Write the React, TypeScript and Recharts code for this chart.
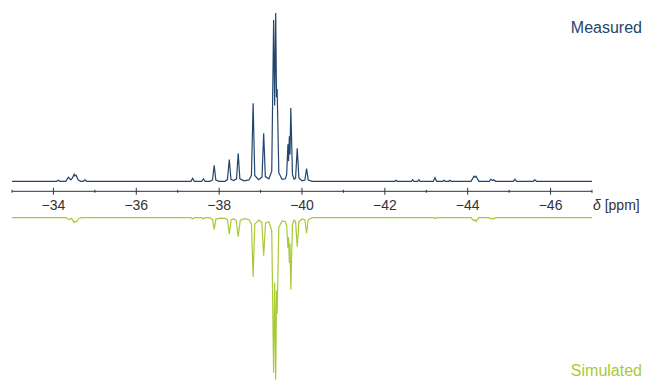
import React from "react";
import { LineChart, Line, XAxis, YAxis } from "recharts";

// chemical shift axis, ppm
const ppmTicks = [-33, -34, -35, -36, -37, -38, -39, -40, -41, -42, -43, -44, -45, -46, -47];

const measuredPpm = [
  -33, -34.08, -34.12, -34.16, -34.3, -34.36, -34.42, -34.46, -34.5, -34.52, -34.545, -34.6, -34.66,
  -34.72, -34.76, -34.8, -37.32, -37.36, -37.4, -37.58, -37.62, -37.66, -37.78, -37.84, -37.88, -37.92,
  -38.0, -38.14, -38.2, -38.245, -38.285, -38.35, -38.42, -38.46, -38.5, -38.6, -38.72, -38.78, -38.82,
  -38.86, -38.95, -39.035, -39.075, -39.115, -39.2, -39.27, -39.315, -39.34, -39.365, -39.385, -39.4,
  -39.44, -39.52, -39.6, -39.63, -39.66, -39.675, -39.695, -39.71, -39.73, -39.77, -39.81, -39.845,
  -39.885, -39.925, -40.0, -40.07, -40.11, -40.15, -40.25, -42.24, -42.27, -42.3, -42.64, -42.67, -42.7,
  -42.79, -42.82, -42.85, -43.17, -43.21, -43.25, -43.4, -43.43, -43.46, -43.54, -43.57, -43.6, -44.08,
  -44.15, -44.175, -44.2, -44.27, -44.52, -44.56, -44.6, -44.63, -44.67, -45.1, -45.14, -45.18, -45.58,
  -45.62, -45.66, -47,
];
const measuredInt = [
  0, 0, 0.6, 0, 0, 2.4, 0.8, 2.0, 4.2, 3.2, 3.6, 0.8, 0,
  0, 0.9, 0, 0, 1.8, 0, 0, 1.5, 0, 0, 0.8, 9.5, 0.8,
  0, 0, 1, 12.9, 1.2, 0.5, 1.5, 16.7, 1.5, 0.3, 0.8, 3.5, 46.4,
  3.5, 1, 2.5, 28.6, 2.8, 1.5, 6, 95.8, 45, 100, 50, 54.8,
  5, 1.2, 1.5, 4, 22, 12, 26.8, 16, 43.5, 4, 1.2, 2,
  19.6, 2, 0.3, 0.8, 7.6, 0.8, 0, 0, 0.6, 0, 0, 0.9, 0,
  0, 0.9, 0, 0, 2.1, 0, 0, 0.6, 0, 0, 0.6, 0, 0,
  3.0, 2.4, 3.0, 0, 0, 1.2, 0.5, 0.9, 0, 0, 1.2, 0, 0,
  0.9, 0, 0,
];

// simulated spectrum, drawn downwards (tallest line = -100)
const simulatedPpm = [
  -33, -34.3, -34.38, -34.44, -34.5, -34.52, -34.55, -34.62, -34.7, -37.32, -37.36, -37.4, -37.58,
  -37.62, -37.66, -37.76, -37.84, -37.88, -37.92, -38.02, -38.14, -38.2, -38.245, -38.29, -38.35, -38.41,
  -38.46, -38.51, -38.62, -38.72, -38.78, -38.82, -38.86, -38.96, -39.03, -39.075, -39.12, -39.2, -39.27,
  -39.315, -39.34, -39.365, -39.385, -39.4, -39.44, -39.52, -39.6, -39.63, -39.66, -39.675, -39.695,
  -39.71, -39.73, -39.77, -39.81, -39.845, -39.885, -39.925, -40.0, -40.07, -40.11, -40.15, -40.25,
  -43.17, -43.21, -43.25, -44.08, -44.15, -44.175, -44.2, -44.27, -44.52, -44.56, -44.6, -44.63, -44.67, -47,
];
const simulatedInt = [
  0, 0, -1.2, -0.4, -3, -2.2, -2.6, -0.3, 0, 0, -0.8, 0, 0,
  -0.8, 0, 0, -1, -7.2, -1, -0.3, -0.4, -1.2, -10.1, -1.2, -0.8, -1.5,
  -11.7, -1.5, -0.6, -1.2, -4, -36.4, -4, -1.5, -3, -23.5, -3.2, -2.5, -8,
  -95.7, -40, -100, -45, -59.3, -6, -2, -2.5, -5, -18.5, -12, -27.8,
  -16, -44.4, -4, -1.5, -2.5, -17.9, -2.5, -0.8, -1.2, -9.6, -1.2, 0,
  0, -0.5, 0, 0, -1.8, -1.2, -2.3, 0, 0, -0.8, -0.3, -0.8, 0, 0,
];

const measuredData = measuredPpm.map((ppm, i) => ({ ppm, v: measuredInt[i] }));
const simulatedData = simulatedPpm.map((ppm, i) => ({ ppm, v: simulatedInt[i] }));

const MEASURED = "#23466e";
const SIMULATED = "#a9c935";
const AXIS = "#333333";

function PpmTick(props: any) {
  const { x, y, payload } = props;
  const v = payload.value as number;
  const major = v % 2 === 0;
  const h = major ? 3.5 : 1.5;
  return (
    <g>
      <line x1={x} x2={x} y1={y - h} y2={y + h} stroke={AXIS} strokeWidth={1} />
      {major && (
        <text x={x} y={y + 18.5} textAnchor="middle" fontSize={14} fill={AXIS}>
          {"\u2212" + Math.abs(v)}
        </text>
      )}
    </g>
  );
}

export default function App() {
  return (
    <div
      style={{
        position: "absolute",
        left: 0,
        top: 0,
        width: 645,
        height: 381,
        overflow: "hidden",
        background: "#fff",
        fontFamily: "'Liberation Sans', Arial, sans-serif",
      }}
    >
      <div style={{ position: "absolute", left: 0, top: 0 }}>
        <LineChart width={645} height={192} data={measuredData} margin={{ top: 13, right: 53, bottom: 10.7, left: 12 }}>
          <XAxis dataKey="ppm" type="number" domain={[-47, -33]} reversed hide />
          <YAxis type="number" domain={[0, 100]} hide />
          <Line
            type="linear"
            dataKey="v"
            stroke={MEASURED}
            strokeWidth={1.2}
            dot={false}
            isAnimationActive={false}
          />
        </LineChart>
      </div>

      <div style={{ position: "absolute", left: 0, top: 180 }}>
        <LineChart width={645} height={201} data={simulatedData} margin={{ top: 11.3, right: 53, bottom: 0, left: 12 }}>
          <XAxis
            dataKey="ppm"
            type="number"
            domain={[-47, -33]}
            reversed
            orientation="top"
            mirror
            ticks={ppmTicks}
            interval={0}
            tickSize={0}
            tickMargin={0}
            tickLine={false}
            axisLine={{ stroke: AXIS, strokeWidth: 1 }}
            tick={<PpmTick />}
          />
          <YAxis type="number" domain={[-100.8, 16.3]} allowDataOverflow hide />
          <Line
            type="linear"
            dataKey="v"
            stroke={SIMULATED}
            strokeWidth={1.2}
            dot={false}
            isAnimationActive={false}
          />
        </LineChart>
      </div>

      <div
        style={{
          position: "absolute",
          left: 593,
          top: 197,
          fontSize: 14,
          lineHeight: "16px",
          color: AXIS,
          whiteSpace: "nowrap",
        }}
      >
        <i>δ</i> [ppm]
      </div>
      <div style={{ position: "absolute", right: 3, top: 19, fontSize: 16, lineHeight: "18px", color: MEASURED }}>
        Measured
      </div>
      <div style={{ position: "absolute", right: 3, top: 362, fontSize: 16, lineHeight: "18px", color: SIMULATED }}>
        Simulated
      </div>
    </div>
  );
}
